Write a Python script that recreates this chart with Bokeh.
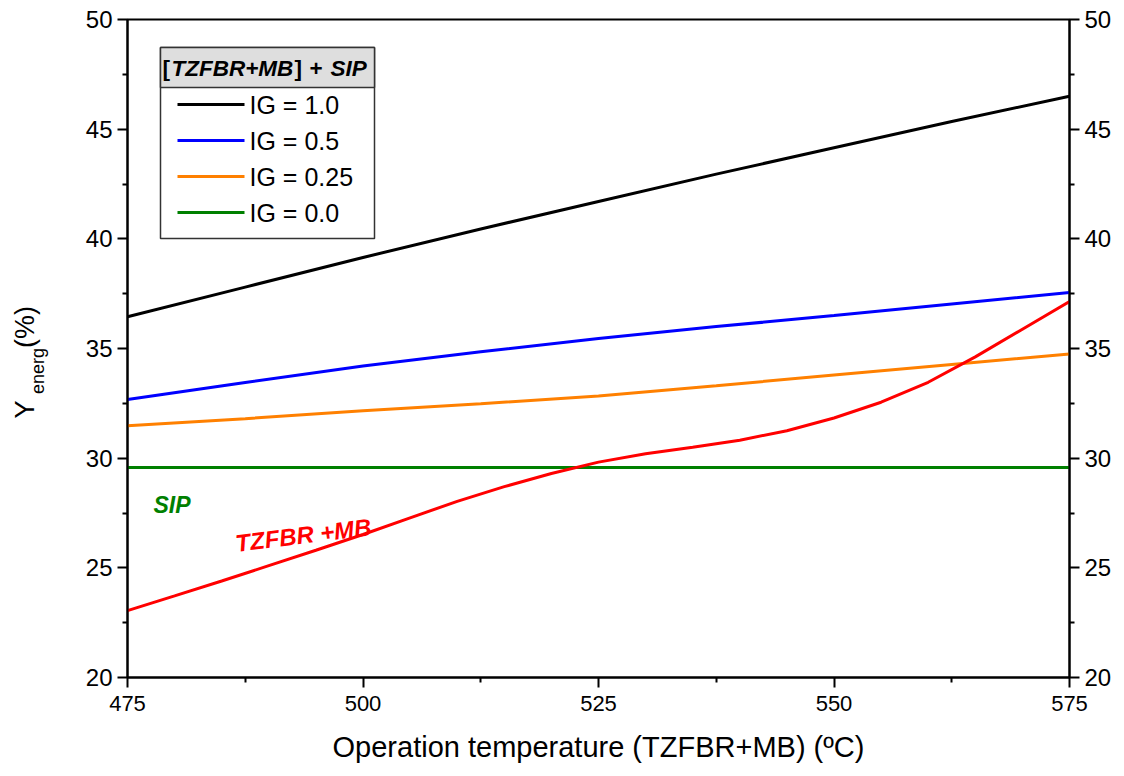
import math
from bokeh.plotting import figure
from bokeh.models import Range1d, LinearAxis, FixedTicker, Title
from bokeh.core.properties import value
from bokeh.embed import file_html
from bokeh.resources import INLINE

# ---------------- data ----------------
temps = [475, 487.5, 500, 512.5, 525, 537.5, 550, 562.5, 575]
ig_1_0 = [36.45, 37.8, 39.15, 40.45, 41.7, 42.95, 44.15, 45.35, 46.5]
ig_0_5 = [32.67, 33.45, 34.2, 34.85, 35.46, 36.0, 36.5, 37.03, 37.55]
ig_0_25 = [31.48, 31.8, 32.16, 32.48, 32.83, 33.3, 33.79, 34.27, 34.75]
ig_0_0 = [29.57, 29.57, 29.57, 29.57, 29.57, 29.57, 29.57, 29.57, 29.57]

red_temps = [475, 480, 485, 490, 495, 500, 505, 510, 515, 520, 525,
             530, 535, 540, 545, 550, 555, 560, 565, 570, 575]
tzfbr_mb = [23.05, 23.72, 24.4, 25.1, 25.8, 26.52, 27.28, 28.03, 28.7, 29.3, 29.82,
            30.2, 30.5, 30.82, 31.25, 31.83, 32.55, 33.46, 34.62, 35.88, 37.14]

legend_labels = ["IG = 1.0", "IG = 0.5", "IG = 0.25", "IG = 0.0"]
series = [ig_1_0, ig_0_5, ig_0_25, ig_0_0]
colors = ["#000000", "#0000ff", "#ff8000", "#008000"]
red = "#ff0000"

x_ticks = [475, 500, 525, 550, 575]
x_minor = [487.5, 512.5, 537.5, 562.5]
y_ticks = [20, 25, 30, 35, 40, 45, 50]
y_minor = [22.5, 27.5, 32.5, 37.5, 42.5, 47.5]

FONT = "Liberation Sans"
NB = "\u00a0"

# ---------------- figure ----------------
FL, FT = 127, 19          # frame left / top on the page
FW, FH = 942, 658
p = figure(frame_width=FW, frame_height=FH,
           x_range=Range1d(475, 575), y_range=Range1d(20, 50),
           output_backend="svg", toolbar_location=None,
           min_border_left=FL, min_border_right=50,
           min_border_top=FT, min_border_bottom=95)
p.xgrid.grid_line_color = None
p.ygrid.grid_line_color = None
p.outline_line_color = "black"
p.outline_line_width = 2
p.outline_line_alpha = 1.0
p.background_fill_color = "white"
p.border_fill_color = "white"

def style_axis(ax, ticks, minor, size):
    ax.ticker = FixedTicker(ticks=ticks, minor_ticks=minor)
    ax.axis_line_width = 2
    ax.axis_line_color = "black"
    ax.major_tick_line_width = 2
    ax.minor_tick_line_width = 2
    ax.major_tick_out = 10
    ax.major_tick_in = 0
    ax.minor_tick_out = 5
    ax.minor_tick_in = 0
    ax.major_label_text_font = FONT
    ax.major_label_text_font_size = size
    ax.major_label_text_color = "black"

style_axis(p.xaxis[0], x_ticks, x_minor, "22px")
style_axis(p.yaxis[0], y_ticks, y_minor, "24px")
p.xaxis.major_label_standoff = 8
p.yaxis.major_label_standoff = 5
p.xaxis.axis_label = "Operation temperature (TZFBR+MB) (ºC)"
p.xaxis.axis_label_text_font = FONT
p.xaxis.axis_label_text_font_size = "29px"
p.xaxis.axis_label_text_font_style = "normal"
p.xaxis.axis_label_text_color = "black"
p.xaxis.axis_label_standoff = 17

# subscript part of the y title ("energ") as the y-axis label
p.yaxis.axis_label = "energ" + NB * 9
p.yaxis.axis_label_text_font = FONT
p.yaxis.axis_label_text_font_size = "18px"
p.yaxis.axis_label_text_font_style = "normal"
p.yaxis.axis_label_text_color = "black"
p.yaxis.axis_label_standoff = 35

right = LinearAxis()
style_axis(right, y_ticks, y_minor, "24px")
right.major_label_standoff = 5
p.add_layout(right, "right")

# ---------------- series ----------------
for ys, c in zip(series, colors):
    p.line(temps, ys, line_color=c, line_width=3)
p.line(red_temps, tzfbr_mb, line_color=red, line_width=3)

# page pixel -> data helpers (annotation placement only)
def dx(px):
    return 475 + (px - FL) * 100.0 / FW

def dy(py):
    return 20 + (FT + FH - py) * 30.0 / FH

# in-plot annotations
p.text(x=[dx(153)], y=[dy(504)], text=["SIP"], text_color="#008000",
       text_font=value(FONT), text_font_size="23px", text_font_style="bold italic",
       text_baseline="alphabetic", text_align="left")
p.text(x=[dx(235)], y=[dy(543)], text=["TZFBR +MB"], text_color=red,
       text_font=value(FONT), text_font_size="24px", text_font_style="bold italic",
       text_baseline="alphabetic", text_align="left", angle=math.radians(7.1))

# ---------------- legend (drawn) ----------------
p.quad(left=[dx(160)], right=[dx(374)], top=[dy(47)], bottom=[dy(238)],
       fill_color="white", line_color="#333333", line_width=1.5)
p.quad(left=[dx(160)], right=[dx(374)], top=[dy(47)], bottom=[dy(87)],
       fill_color="#dedede", line_color="#333333", line_width=1.5)

title_parts = [("[", "bold", 162), ("TZFBR+MB", "bold italic", 171),
               ("]", "bold", 294), ("+", "bold", 309), ("SIP", "bold italic", 330)]
for t, st, px in title_parts:
    p.text(x=[dx(px)], y=[dy(68)], text=[t], text_color="black",
           text_font=value(FONT), text_font_size="22.5px", text_font_style=st,
           text_baseline="middle", text_align="left")

row_y = [104, 140, 176, 212]
for lab, c, ry in zip(legend_labels, colors, row_y):
    p.line([dx(177), dx(244)], [dy(ry), dy(ry)], line_color=c, line_width=3)
    p.text(x=[dx(249)], y=[dy(ry)], text=[lab], text_color="black",
           text_font=value(FONT), text_font_size="25px",
           text_baseline="middle", text_align="left")

# ---------------- y axis title main part: "Y ... (%)" ----------------
t_main = Title(text="Y" + NB * 7 + "(%)", align="left", offset=259, standoff=-31,
               text_font=FONT, text_font_size="27px", text_font_style="normal",
               text_color="black")
p.add_layout(t_main, "left")

open("out.html", "w").write(file_html(p, INLINE))
